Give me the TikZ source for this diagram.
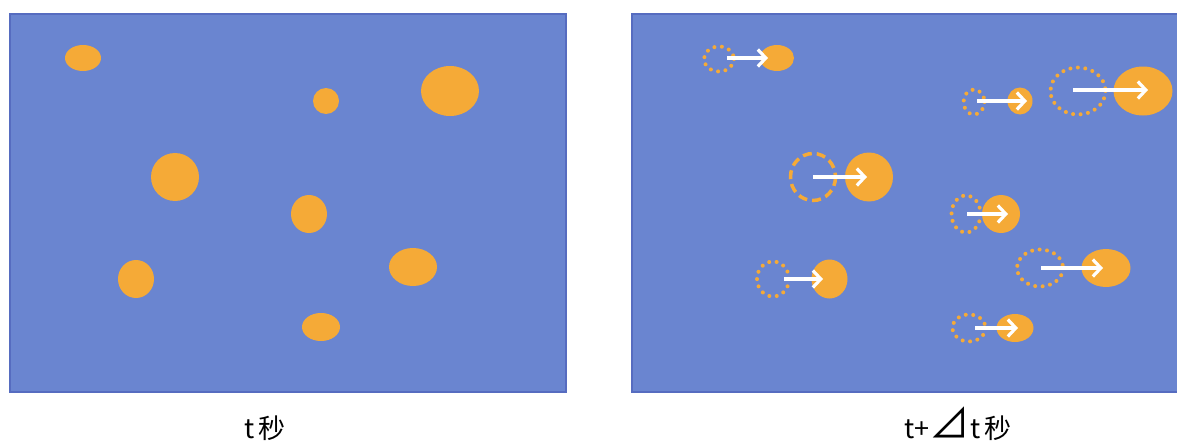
\documentclass[tikz,border=0pt]{standalone}
\usepackage{fontspec}
\newfontfamily\cjk{Noto Sans CJK SC}
\usetikzlibrary{arrows.meta}
\definecolor{panelblue}{RGB}{106,133,208}
\definecolor{paneledge}{RGB}{86,108,192}
\definecolor{ball}{RGB}{245,170,55}
\tikzset{
  panel/.style={fill=panelblue, draw=paneledge, line width=2.5pt},
  ballfill/.style={fill=ball},
  ghostdot/.style={draw=ball, line width=4pt, line cap=round, dash pattern=on 0pt off 7.5pt},
  ghostdash/.style={draw=ball, line width=3.5pt, dash pattern=on 9pt off 5pt},
  move/.style={draw=white, line width=3.2pt, -{Straight Barb[length=8pt,width=17pt,line width=3.2pt]}},
  lab/.style={font=\cjk\fontsize{27}{30}\selectfont, anchor=base}
}
\begin{document}
\begin{tikzpicture}[x=1pt,y=-1pt]
\useasboundingbox (0,0) rectangle (1177,444);
\fill[white] (0,0) rectangle (1177,444);
% left panel
\draw[panel] (10,14) rectangle (566,392);
\fill[ballfill] (83,58) ellipse [x radius=18, y radius=13];
\fill[ballfill] (326,101) ellipse [x radius=13, y radius=13];
\fill[ballfill] (450,91) ellipse [x radius=29, y radius=25];
\fill[ballfill] (175,177) ellipse [x radius=24, y radius=24];
\fill[ballfill] (309,214) ellipse [x radius=18, y radius=19];
\fill[ballfill] (136,279) ellipse [x radius=18, y radius=19];
\fill[ballfill] (413,267) ellipse [x radius=24, y radius=19];
\fill[ballfill] (321,327) ellipse [x radius=19, y radius=14];
\node[lab] (l1) at (265,438) {t\,秒};
% right panel
\draw[panel] (632,14) rectangle (1185,392);
% R1
\draw[ghostdot] (719,59) ellipse [x radius=15, y radius=12.5];
\fill[ballfill] (777,58) ellipse [x radius=17, y radius=13];
\coordinate (a1) at (727,58); \coordinate (b1) at (768,58);
\draw[move] (a1) -- (b1);
% R2
\draw[ghostdot] (974,102) ellipse [x radius=10.5, y radius=12.5];
\fill[ballfill] (1020,101) ellipse [x radius=12.5, y radius=13.5];
\coordinate (a2) at (977,101); \coordinate (b2) at (1027,101);
\draw[move] (a2) -- (b2);
% R3
\draw[ghostdot] (1078,91) ellipse [x radius=27.5, y radius=23.5];
\fill[ballfill] (1143,91) ellipse [x radius=29.5, y radius=24.5];
\coordinate (a3) at (1073,90); \coordinate (b3) at (1148,90);
\draw[move] (a3) -- (b3);
% R4
\draw[ghostdash] (813,177) ellipse [x radius=22.5, y radius=23.5];
\fill[ballfill] (869,177) ellipse [x radius=24, y radius=24.5];
\coordinate (a4) at (813,177); \coordinate (b4) at (867,177);
\draw[move] (a4) -- (b4);
% R5
\draw[ghostdot] (966,214) ellipse [x radius=14.5, y radius=18.5];
\fill[ballfill] (1001,214) ellipse [x radius=19, y radius=19];
\coordinate (a5) at (967,214); \coordinate (b5) at (1008,214);
\draw[move] (a5) -- (b5);
% R6
\draw[ghostdot] (773,279) ellipse [x radius=16, y radius=17.5];
\fill[ballfill] (829.5,279) ellipse [x radius=18, y radius=19.5];
\coordinate (a6) at (784,279); \coordinate (b6) at (823,279);
\draw[move] (a6) -- (b6);
% R7
\draw[ghostdot] (1040,268) ellipse [x radius=23, y radius=18.5];
\fill[ballfill] (1106,268) ellipse [x radius=24.5, y radius=19];
\coordinate (a7) at (1041,268); \coordinate (b7) at (1103,268);
\draw[move] (a7) -- (b7);
% R8
\draw[ghostdot] (969,328) ellipse [x radius=16.5, y radius=13.5];
\fill[ballfill] (1015,328) ellipse [x radius=18.5, y radius=14];
\coordinate (a8) at (975,328); \coordinate (b8) at (1018,328);
\draw[move] (a8) -- (b8);
\node[lab] (l2) at (958,438) {t+\scalebox{1.5}{⊿}t\,秒};
\end{tikzpicture}
\end{document}
